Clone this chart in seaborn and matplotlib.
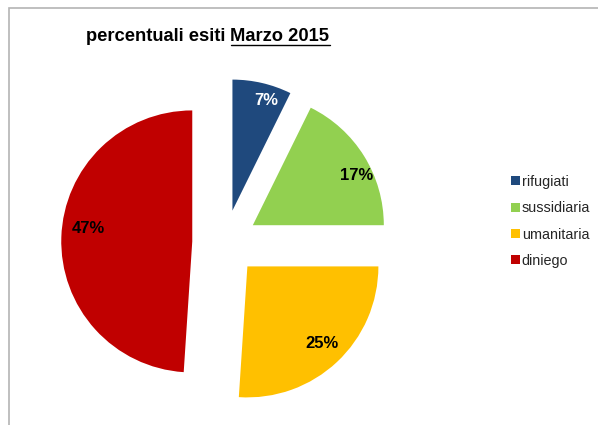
import matplotlib
matplotlib.use("Agg")
import matplotlib.pyplot as plt
import seaborn as sns
import numpy as np
from matplotlib import font_manager
from matplotlib.patches import Rectangle
from matplotlib.lines import Line2D

categories = ["rifugiati", "sussidiaria", "umanitaria", "diniego"]
values = [7, 17, 25, 47]
colors = ["#1F497D", "#92D050", "#FFC000", "#C00000"]
title_main = "percentuali esiti "
title_under = "Marzo 2015"

sns.set_theme(style="white")
names = {f.name for f in font_manager.fontManager.ttflist}
narrow = "Liberation Sans Narrow" if "Liberation Sans Narrow" in names else "Liberation Sans"
plt.rcParams["font.family"] = [narrow, "DejaVu Sans"]

W, H = 598, 425
fig = plt.figure(figsize=(W / 100, H / 100), dpi=100)
fig.patch.set_facecolor("white")

# frame
fig.add_artist(Rectangle((9 / W, -0.05), 1.2, (H - 8) / H + 0.05, transform=fig.transFigure,
                         fill=False, edgecolor="#b4b4b4", linewidth=1.2))

R = 131.0
cx, cy = 225.0, H - 242.5
half = 1.4
ax = fig.add_axes([(cx - half * R) / W, (cy - half * R) / H, 2 * half * R / W, 2 * half * R / H])

wedges, _ = ax.pie(values, colors=colors, startangle=90, counterclock=False,
                   explode=[0.25] * len(values), radius=1.0,
                   wedgeprops=dict(linewidth=0))
ax.set_xlim(-half, half)
ax.set_ylim(-half, half)
ax.set_aspect("auto")
ax.axis("off")

label_pos = [(0.88, 73), (0.88, 25.7), (0.815, -46), (0.80, 173)]
label_col = ["white", "black", "black", "black"]
for w, v, (d, a), c in zip(wedges, values, label_pos, label_col):
    x0, y0 = w.center
    ax.text(x0 + d * np.cos(np.radians(a)), y0 + d * np.sin(np.radians(a)), f"{v}%",
            ha="center", va="center", color=c, fontsize=12, fontweight="bold")

# title
fs_t = 13.2
t1 = fig.text(86 / W, 1 - 41 / H, title_main, fontsize=fs_t, fontweight="bold",
              ha="left", va="baseline", color="black")
fig.canvas.draw()
r = fig.canvas.get_renderer()
bb = t1.get_window_extent(r)
t2 = fig.text(bb.x1 / W, 1 - 41 / H, title_under, fontsize=fs_t, fontweight="bold",
              ha="left", va="baseline", color="black")
bb2 = t2.get_window_extent(r)
yl = (H - 45) / H
fig.add_artist(Line2D([bb2.x0 / W, bb2.x1 / W], [yl, yl], transform=fig.transFigure,
                      color="black", linewidth=1.0))

leg = fig.legend(wedges, categories, loc="upper left",
                 bbox_to_anchor=(511 / W, 1 - 175 / H), frameon=False,
                 fontsize=10.4, handlelength=0.6, handleheight=0.6,
                 handletextpad=0.15, labelspacing=0.85, borderaxespad=0, borderpad=0)

fig.savefig("out.png", dpi=100, facecolor="white")
